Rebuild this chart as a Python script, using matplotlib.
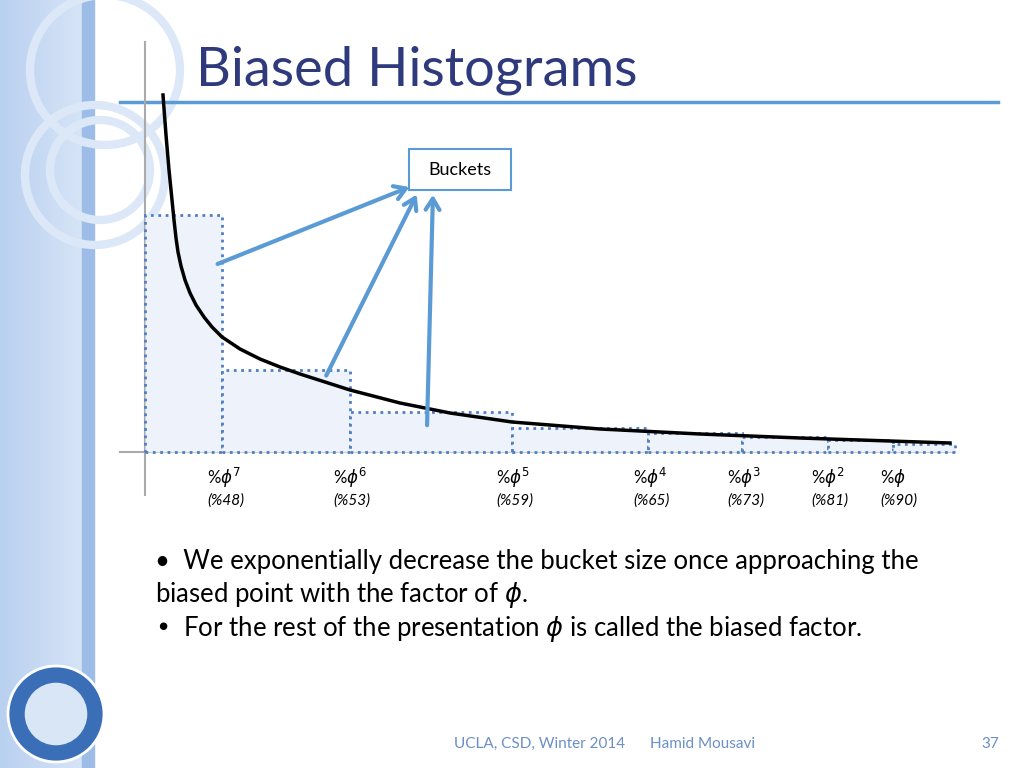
import matplotlib.pyplot as plt
from matplotlib.patches import Rectangle, Circle, FancyArrowPatch
import numpy as np

# bucket edges and heights (slide pixel units, baseline at y=452)
bucket_edges = [145, 222, 350, 512, 648, 742, 828, 893, 955]
bucket_heights = [237, 82, 40, 24, 19, 15, 12, 8]
labels_top = [r'%$\phi^7$', r'%$\phi^6$', r'%$\phi^5$', r'%$\phi^4$', r'%$\phi^3$', r'%$\phi^2$', r'%$\phi$']
labels_bot = ['(%48)', '(%53)', '(%59)', '(%65)', '(%73)', '(%81)', '(%90)']
label_x = [207, 333, 496, 633, 727, 811, 880]
curve_x = [163, 166, 169, 172, 174, 176, 178, 181, 185, 190, 196, 204, 212, 222, 240, 260, 280, 300, 325, 350, 400, 450, 512, 600, 700, 800, 950]
curve_y = [95, 135, 170, 200, 220, 238, 252, 266, 280, 293, 305, 317, 327, 337, 349, 359, 367, 374, 382, 390, 403, 413, 422, 429, 434, 438, 443]
arrow_tails = [(215, 265), (325, 378), (427, 428)]
arrow_heads = [(412, 186), (418, 192), (433, 192)]

base = 452
blue = '#5b9bd5'

fig = plt.figure(figsize=(10.24, 7.68), dpi=100)
ax = fig.add_axes([0, 0, 1, 1])
ax.set_xlim(0, 1024)
ax.set_ylim(768, 0)
ax.axis('off')

# left decorative band
grad = np.linspace(0, 1, 100).reshape(1, -1)
ax.imshow(grad, extent=[0, 82, 768, 0], cmap=plt.matplotlib.colors.LinearSegmentedColormap.from_list('b', ['#b9d0f0', '#d6e4f7']), aspect='auto', zorder=0)
ax.add_patch(Rectangle((82, 0), 12, 768, color='#9dbde8', zorder=1))
for cx, cy, r in [(105, 70, 75), (95, 175, 70), (100, 170, 50)]:
    ax.add_patch(Circle((cx, cy), r, fill=False, ec='#dce8f7', lw=6, zorder=1))
ax.add_patch(Circle((56, 714), 48, fc='#3a6fb7', ec='white', lw=2, zorder=2))
ax.add_patch(Circle((56, 714), 32, fc='#d9e6f5', ec='#3a6fb7', lw=1, zorder=3))

# title
ax.text(196, 70, 'Biased Histograms', fontsize=39, color='#2e3a7c', family='Lato', va='center', zorder=5)
ax.plot([120, 998], [102, 102], color=blue, lw=2.5)

# axes lines
ax.plot([145, 145], [42, 495], color='#aaaaaa', lw=1.5)
ax.plot([120, 955], [base, base], color='#aaaaaa', lw=1.5)

# buckets
lefts = bucket_edges[:-1]
widths = np.diff(bucket_edges)
ax.bar(lefts, [-h for h in bucket_heights], width=widths, bottom=base, align='edge',
       color='#eef3fb', edgecolor='#4f7fc0', linestyle=':', lw=2, zorder=3)

# curve
ax.plot(curve_x, curve_y, color='black', lw=2.5, zorder=4, solid_joinstyle='round')

# labels
for x, t, b in zip(label_x, labels_top, labels_bot):
    ax.text(x, 478, t, fontsize=12, family='Lato', va='center')
    ax.text(x, 501, b, fontsize=11, family='Lato', style='italic', va='center')

# buckets box and arrows
ax.add_patch(Rectangle((409, 149), 102, 41, fc='white', ec=blue, lw=1.5, zorder=5))
ax.text(460, 170, 'Buckets', fontsize=13, family='Lato', ha='center', va='center', zorder=6)
for t, h in zip(arrow_tails, arrow_heads):
    ax.add_patch(FancyArrowPatch(t, h, arrowstyle='->,head_length=8,head_width=5', color=blue, lw=3, zorder=5))

# bullets
ax.text(155, 561, u'\u2022  We exponentially decrease the bucket size once approaching the', fontsize=18.5, family='Lato', va='center')
ax.text(155, 595, r'biased point with the factor of $\phi$.', fontsize=18.5, family='Lato', va='center')
ax.text(155, 629, u'\u2022  For the rest of the presentation $\\phi$ is called the biased factor.', fontsize=18.5, family='Lato', va='center')

# footer
ax.text(540, 744, 'UCLA, CSD, Winter 2014', fontsize=11, color='#6b8fc7', family='Lato', ha='center', va='center')
ax.text(703, 744, 'Hamid Mousavi', fontsize=11, color='#6b8fc7', family='Lato', ha='center', va='center')
ax.text(990, 744, '37', fontsize=11, color='#6b8fc7', family='Lato', ha='center', va='center')

fig.savefig('out.png', dpi=100)
